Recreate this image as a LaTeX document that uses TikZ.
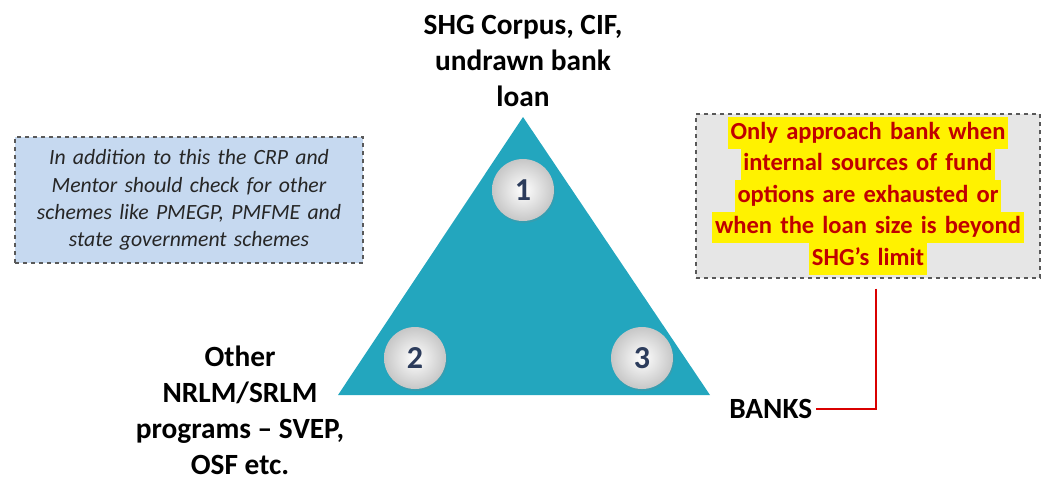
\documentclass[tikz,border=0pt]{standalone}
\usepackage{fontspec}
\setmainfont{Carlito}
\usetikzlibrary{shadows}

\definecolor{tealtri}{RGB}{35,166,190}
\definecolor{numblue}{RGB}{44,60,92}
\definecolor{noteblue}{RGB}{198,217,240}
\definecolor{notegray}{RGB}{230,230,230}
\definecolor{darkred}{RGB}{192,0,0}
\newcommand{\hlline}[1]{{\setlength{\fboxsep}{0pt}\colorbox{yellow}{\strut\hspace{2pt}#1\hspace{2pt}}}}

\begin{document}
\begin{tikzpicture}[x=0.75pt,y=-0.75pt,
  lbl/.style={font=\fontsize{22}{27}\selectfont\bfseries, align=center},
  ball/.style={circle, minimum size=46.5pt, inner sep=0pt,
    inner color=white, outer color=black!22,
    drop shadow={opacity=0.2, shadow xshift=0.8pt, shadow yshift=-1.5pt},
    font=\fontsize{24}{24}\selectfont\bfseries, text=numblue},
  notebox/.style={draw=black!65, dashed, line width=0.8pt, inner sep=0pt, align=center}]
\useasboundingbox (0,0) rectangle (1041,480);

% triangle
\coordinate (apex) at (523,117);
\coordinate (bl) at (338,395);
\coordinate (br) at (710,395);
\fill[tealtri] (apex) -- (br) -- (bl) -- cycle;

\node[ball] (n1) at (523,190) {1};
\node[ball] (n2) at (415,358) {2};
\node[ball] (n3) at (642,358) {3};

% labels at the corners
\node[lbl] (corpus) at (523,61) {SHG Corpus, CIF,\\undrawn bank\\loan};
\node[lbl] (other) at (240,410) {Other\\NRLM/SRLM\\programs – SVEP,\\OSF etc.};
\node[lbl, anchor=west, inner sep=3pt] (banks) at (725,409) {BANKS};

% notes
\node[notebox, fill=noteblue, text width=261pt, minimum height=94.5pt,
  font=\fontsize{16.3}{20.5}\selectfont\itshape, text=black!85] (schemes) at (189,200)
  {In addition to this the CRP and\\Mentor should check for other\\schemes like PMEGP, PMFME and\\state government schemes};
\node[notebox, fill=notegray, text width=258pt, minimum height=123pt,
  font=\fontsize{18.4}{23.6}\selectfont\bfseries, text=darkred] (note) at (868,196)
  {\hlline{Only approach bank when}\\\hlline{internal sources of fund}\\\hlline{options are exhausted or}\\\hlline{when the loan size is beyond}\\\hlline{SHG’s limit}};

\draw[red!85!black, line width=1.5pt] ([shift={(8,10)}]note.south) |- (banks.east);
\end{tikzpicture}
\end{document}
